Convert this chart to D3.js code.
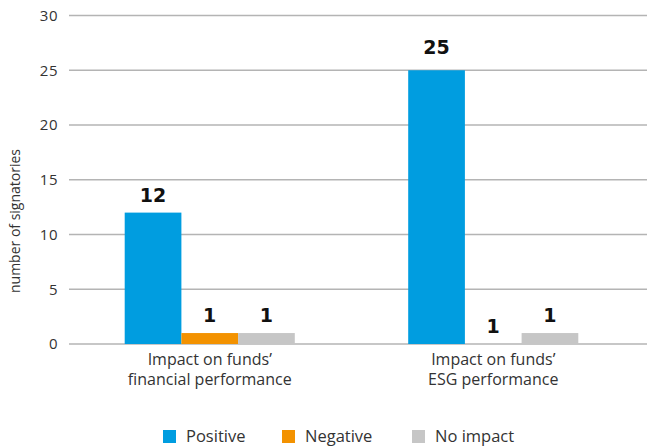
<!DOCTYPE html>
<html>
<head>
<meta charset="utf-8">
<script src="https://cdn.jsdelivr.net/npm/d3@7"></script>
<style>
  body { margin: 0; background: #fff; }
  text { font-family: "Open Sans", "Noto Sans", sans-serif; fill: #333; }
</style>
</head>
<body>
<svg id="chart" width="647" height="447"></svg>
<script>
// data
var categories = ["Impact on funds' financial performance", "Impact on funds' ESG performance"];
var categoryLines = [["Impact on funds\u2019", "financial performance"], ["Impact on funds\u2019", "ESG performance"]];
var seriesNames = ["Positive", "Negative", "No impact"];
var positive = [12, 25];
var negative = [1, 0];
var noImpact = [1, 1];
// value labels as printed above the bars
var labelPositive = ["12", "25"];
var labelNegative = ["1", "1"];
var labelNoImpact = ["1", "1"];
var yTicks = [0, 5, 10, 15, 20, 25, 30];

var colors = ["#009de0", "#f39200", "#c6c6c6"];

var svg = d3.select("#chart"),
  width = +svg.attr("width"),
  height = +svg.attr("height");

var y = d3.scaleLinear()
  .domain([0, 30])
  .range([344, 15.5]);

var x0 = d3.scaleBand()
  .domain(categories)
  .range([68, 635])
  .paddingInner(0.4)
  .paddingOuter(0.2);

var x1 = d3.scaleBand()
  .domain(seriesNames)
  .range([0, x0.bandwidth()]);

// gridlines
svg.append("g")
  .selectAll("line")
  .data(yTicks)
  .enter().append("line")
  .attr("x1", 69)
  .attr("x2", width)
  .attr("y1", function(d) { return y(d); })
  .attr("y2", function(d) { return y(d); })
  .style("stroke", "#b4b4b4")
  .style("stroke-width", 1.5);

// y tick labels
svg.append("g")
  .selectAll("text")
  .data(yTicks)
  .enter().append("text")
  .attr("x", 58)
  .attr("y", function(d) { return y(d); })
  .attr("dy", "0.35em")
  .attr("text-anchor", "end")
  .style("font-size", "15px")
  .style("letter-spacing", "0.5px")
  .text(function(d) { return d; });

svg.append("text")
  .attr("transform", "translate(20,221) rotate(-90)")
  .attr("text-anchor", "middle")
  .style("font-size", "14px")
  .text("number of signatories");

var rows = categories.map(function(c, i) {
  return {
    cat: c,
    bars: [
      { s: seriesNames[0], v: positive[i], l: labelPositive[i] },
      { s: seriesNames[1], v: negative[i], l: labelNegative[i] },
      { s: seriesNames[2], v: noImpact[i], l: labelNoImpact[i] }
    ]
  };
});

var groups = svg.append("g")
  .selectAll("g")
  .data(rows)
  .enter().append("g")
  .attr("transform", function(d) { return "translate(" + x0(d.cat) + ",0)"; });

groups.selectAll("rect")
  .data(function(d) { return d.bars; })
  .enter().append("rect")
  .attr("x", function(d) { return x1(d.s); })
  .attr("width", x1.bandwidth())
  .attr("y", function(d) { return y(d.v); })
  .attr("height", function(d) { return y(0) - y(d.v); })
  .attr("fill", function(d, i) { return colors[i]; });

groups.selectAll("text.val")
  .data(function(d) { return d.bars; })
  .enter().append("text")
  .attr("class", "val")
  .attr("x", function(d) { return x1(d.s) + x1.bandwidth() / 2; })
  .attr("y", function(d) { return y(d.v) - (d.v > 20 ? 16 : 11); })
  .attr("text-anchor", "middle")
  .style("font-family", "'DejaVu Sans', sans-serif")
  .style("font-weight", "bold")
  .style("font-size", "19px")
  .style("fill", "#111")
  .text(function(d) { return d.l; });

// category labels
groups.each(function(d, i) {
  var g = d3.select(this);
  categoryLines[i].forEach(function(line, k) {
    g.append("text")
      .attr("x", x0.bandwidth() / 2)
      .attr("y", 365 + k * 20)
      .attr("text-anchor", "middle")
      .style("font-size", "16px")
      .text(line);
  });
});

// legend
var legendX = [163, 282, 412];
var legend = svg.append("g")
  .selectAll("g")
  .data(seriesNames)
  .enter().append("g")
  .attr("transform", function(d, i) { return "translate(" + legendX[i] + ",430)"; });

legend.append("rect")
  .attr("width", 13)
  .attr("height", 13)
  .attr("fill", function(d, i) { return colors[i]; });

legend.append("text")
  .attr("x", 23)
  .attr("y", 12)
  .style("font-size", "16.5px")
  .text(function(d) { return d; });
</script>
</body>
</html>
